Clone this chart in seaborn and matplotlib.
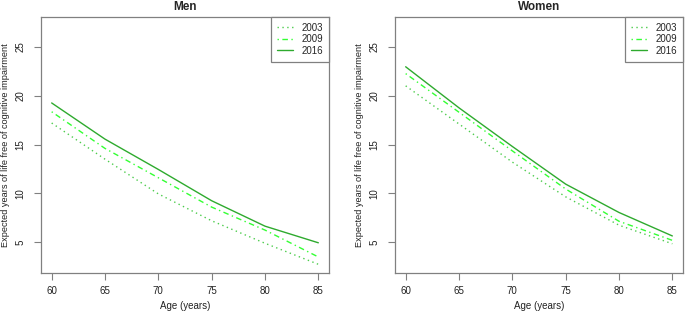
import numpy as np
import pandas as pd
import matplotlib.pyplot as plt
import seaborn as sns

ages = [60, 65, 70, 75, 80, 85]
years = ['2003', '2009', '2016']

men_2003 = [17.2, 13.5, 9.95, 7.2, 4.9, 2.75]
men_2009 = [18.35, 14.6, 11.6, 8.6, 6.25, 3.5]
men_2016 = [19.25, 15.55, 12.45, 9.25, 6.65, 4.95]

women_2003 = [21.0, 17.1, 13.2, 9.65, 6.75, 4.85]
women_2009 = [22.25, 18.3, 14.35, 10.45, 7.15, 5.2]
women_2016 = [22.95, 18.75, 14.8, 10.95, 8.05, 5.65]

palette = {'2003': '#4ccc4c', '2009': '#33ff33', '2016': '#2eaa2e'}
dashes = {'2003': (1, 2.5), '2009': (1, 2.5, 4, 2.5), '2016': ''}

sns.set_style('white')
plt.rcParams['font.family'] = ['Liberation Sans', 'DejaVu Sans']


def build(s03, s09, s16):
    frames = []
    for yr, vals in zip(years, [s03, s09, s16]):
        frames.append(pd.DataFrame({'age': ages, 'value': vals, 'year': yr}))
    return pd.concat(frames, ignore_index=True)


panels = [
    ('Men', build(men_2003, men_2009, men_2016), 41),
    ('Women', build(women_2003, women_2009, women_2016), 395),
]

W, H = 685, 313
fig = plt.figure(figsize=(W / 100, H / 100), dpi=100)

for title, df, left in panels:
    ax = fig.add_axes([left / W, (H - 273) / H, 288 / W, 256 / H])
    sns.lineplot(data=df, x='age', y='value', hue='year', style='year',
                 palette=palette, dashes=dashes, linewidth=1.0, ax=ax)
    ax.set_xlim(59, 86)
    ax.set_ylim(1.86, 28.04)
    ax.set_xticks([60, 65, 70, 75, 80, 85])
    ax.set_yticks([5, 10, 15, 20, 25])
    for sp in ax.spines.values():
        sp.set_color('#808080')
        sp.set_linewidth(0.9)
    ax.tick_params(axis='both', direction='out', length=5, width=0.8,
                   color='#808080', labelsize=7, labelcolor='#222222', pad=4,
                   bottom=True, left=True)
    ax.tick_params(axis='y', pad=6)
    plt.setp(ax.get_yticklabels(), rotation=90, va='center')
    ax.set_xlabel('Age (years)', fontsize=7, color='#222222', labelpad=4)
    ax.set_ylabel('Expected years of life free of cognitive impairment',
                  fontsize=6.6, color='#222222')
    ax.yaxis.set_label_coords(-31 / 288, 0.5)
    ax.set_title(title, fontsize=8.5, fontweight='bold', pad=5)
    leg = ax.legend(loc='upper right', borderaxespad=0, fancybox=False,
                    fontsize=7, handlelength=1.6, labelspacing=0.15,
                    borderpad=0.6, handletextpad=0.9, framealpha=1)
    leg.get_frame().set_edgecolor('#808080')
    leg.get_frame().set_linewidth(0.9)
    for line in leg.get_lines():
        line.set_linewidth(1.0)

fig.savefig('out.png', dpi=100)
